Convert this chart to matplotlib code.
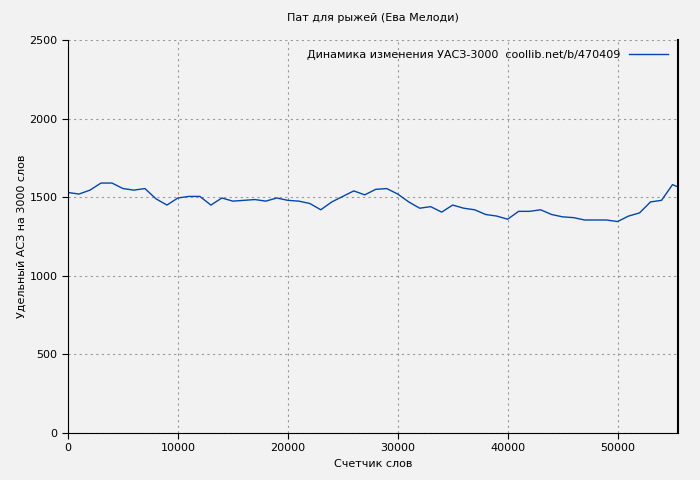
import matplotlib
matplotlib.use("Agg")
import matplotlib.pyplot as plt

words = list(range(0, 57000, 1000))
values = [1530, 1520, 1545, 1590, 1590, 1555, 1545, 1555, 1490, 1450,
          1495, 1505, 1505, 1450, 1495, 1475, 1480, 1485, 1475, 1495,
          1480, 1475, 1460, 1420, 1470, 1505, 1540, 1515, 1550, 1555,
          1520, 1470, 1430, 1440, 1405, 1450, 1430, 1420, 1390, 1380,
          1360, 1410, 1410, 1420, 1390, 1375, 1370, 1355, 1355, 1355,
          1345, 1380, 1400, 1470, 1480, 1580, 1550]

fig = plt.figure(figsize=(7, 4.8), dpi=100)
fig.patch.set_facecolor("#f2f2f2")
ax = fig.add_axes([68/700, 47/480, 610/700, 393/480])
ax.set_facecolor("#f2f2f2")
ax.plot(words, values, color="#0047b3", lw=1, label="Динамика изменения УАСЗ-3000  coollib.net/b/470409")
ax.set_xlim(0, 55500)
ax.set_ylim(0, 2500)
ax.set_xticks([0, 10000, 20000, 30000, 40000, 50000])
ax.set_yticks([0, 500, 1000, 1500, 2000, 2500])
ax.grid(True, color="#999999", linestyle=(0, (2, 3)), lw=0.8)
ax.tick_params(labelsize=8, direction="out", length=4)
ax.spines["top"].set_visible(False)
ax.spines["right"].set_linewidth(1.5)
ax.set_xlabel("Счетчик слов", fontsize=8)
ax.set_ylabel("Удельный АСЗ на 3000 слов", fontsize=8, labelpad=2)
ax.set_title("Пат для рыжей (Ева Мелоди)", fontsize=8, pad=14)
ax.legend(loc="upper right", fontsize=8, frameon=False, markerfirst=False, handlelength=3.5)
fig.savefig("out.png", dpi=100, facecolor=fig.get_facecolor())
